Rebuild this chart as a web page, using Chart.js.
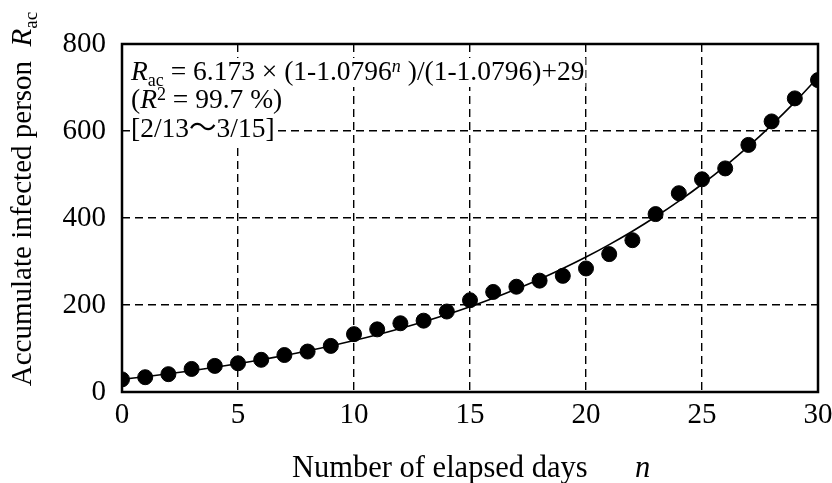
<!DOCTYPE html>
<html>
<head>
<meta charset="utf-8">
<script src="https://cdn.jsdelivr.net/npm/chart.js@4.4.0/dist/chart.umd.min.js"></script>
<style>
  html, body { margin: 0; padding: 0; background: #fff; }
  #wrap { width: 832px; height: 483px; }
</style>
</head>
<body>
<div id="wrap"><canvas id="fitChart"></canvas></div>
<script>
var days = [0, 1, 2, 3, 4, 5, 6, 7, 8, 9, 10, 11, 12, 13, 14, 15, 16, 17, 18, 19, 20, 21, 22, 23, 24, 25, 26, 27, 28, 29, 30];
var infected = [29, 34, 41, 53, 60, 66, 74, 85, 93, 106, 133, 144, 158, 164, 185, 211, 230, 242, 256, 267, 284, 317, 349, 409, 457, 489, 514, 568, 622, 675, 717];
// fitted curve values read at each day
var fitted = [29, 35.2, 41.8, 49.0, 56.8, 65.2, 74.2, 84.0, 94.6, 105.9, 118.2, 131.5, 145.9, 161.3, 178.0, 196.1, 215.5, 236.6, 259.3, 283.8, 310.2, 338.8, 369.6, 402.9, 438.8, 477.6, 519.5, 564.7, 613.6, 666.3, 723.2];
var xTicks = [0, 5, 10, 15, 20, 25, 30];
var yTicks = [0, 200, 400, 600, 800];

var FONT = '"Liberation Serif", "Times New Roman", "Noto Sans CJK JP", serif';

function pts(ys) {
  return days.map(function (d, i) { return { x: d, y: ys[i] }; });
}

function segFont(seg, size) {
  var s = (seg.sub || seg.sup) ? Math.round(size * 0.66) : size;
  return (seg.it ? "italic " : "") + s + "px " + FONT;
}
function richWidth(ctx, segs, size) {
  var w = 0;
  segs.forEach(function (seg) { ctx.font = segFont(seg, size); w += ctx.measureText(seg.t).width; });
  return w;
}
function drawRich(ctx, segs, x, y, size) {
  segs.forEach(function (seg) {
    ctx.font = segFont(seg, size);
    var dy = seg.sub ? size * 0.2 : (seg.sup ? -size * 0.3 : 0);
    ctx.fillText(seg.t, x, y + dy);
    x += ctx.measureText(seg.t).width;
  });
}

var noteLines = [
  [{ t: "R", it: true }, { t: "ac", sub: true }, { t: " = 6.173 × (1-1.0796" }, { t: "n", it: true, sup: true }, { t: " )/(1-1.0796)+29" }],
  [{ t: "(" }, { t: "R", it: true }, { t: "2", sup: true }, { t: " = 99.7 %)" }],
  [{ t: "[2/13〜3/15]" }]
];

var decor = {
  id: "decor",
  afterDatasetsDraw: function (chart) {
    var ctx = chart.ctx, a = chart.chartArea;
    ctx.save();
    ctx.textAlign = "left";
    ctx.textBaseline = "alphabetic";
    var size = 27.5, x0 = a.left + 9, base = [80, 108, 137];
    noteLines.forEach(function (segs, i) {
      var w = richWidth(ctx, segs, size);
      ctx.fillStyle = "#fff";
      ctx.fillRect(x0 - 1, base[i] - 22, w + 2, 29);
      ctx.fillStyle = "#000";
      drawRich(ctx, segs, x0, base[i], size);
    });
    ctx.restore();
  },
  afterDraw: function (chart) {
    var ctx = chart.ctx, a = chart.chartArea;
    ctx.save();
    ctx.strokeStyle = "#000";
    ctx.lineWidth = 2.5;
    ctx.strokeRect(a.left, a.top, a.right - a.left, a.bottom - a.top);

    ctx.fillStyle = "#000";
    ctx.textBaseline = "alphabetic";
    // x title
    drawRich(ctx, [{ t: "Number of elapsed days" }], 292, 477, 30.5);
    drawRich(ctx, [{ t: "n", it: true }], 635, 477, 30.5);
    // y title
    var ySegs = [{ t: "Accumulate infected person  " }, { t: "R", it: true }, { t: "ac", sub: true }];
    var w = richWidth(ctx, ySegs, 29);
    ctx.translate(31, 199);
    ctx.rotate(-Math.PI / 2);
    drawRich(ctx, ySegs, -w / 2, 0, 29);
    ctx.restore();
  }
};

new Chart(document.getElementById("fitChart").getContext("2d"), {
  type: "scatter",
  data: {
    datasets: [
      {
        label: "fit",
        data: pts(fitted),
        showLine: true,
        borderColor: "#000",
        borderWidth: 1.6,
        pointRadius: 0,
        tension: 0.4,
        order: 2
      },
      {
        label: "data",
        data: pts(infected),
        showLine: false,
        backgroundColor: "#000",
        borderColor: "#000",
        pointRadius: 7.5,
        order: 1
      }
    ]
  },
  options: {
    responsive: true,
    maintainAspectRatio: false,
    animation: false,
    layout: { padding: { top: 44, right: 14, left: 0, bottom: 0 } },
    plugins: { legend: { display: false }, tooltip: { enabled: false } },
    scales: {
      x: {
        type: "linear",
        min: 0,
        max: 30,
        afterBuildTicks: function (s) { s.ticks = xTicks.map(function (v) { return { value: v }; }); },
        afterFit: function (s) { s.height = 91; s.paddingLeft = 0; s.paddingRight = 0; },
        ticks: { color: "#000", padding: 6, font: { family: FONT, size: 29 }, maxRotation: 0 },
        grid: { color: "#000", lineWidth: 1.4, drawTicks: false },
        border: { display: false, dash: [8, 5] }
      },
      y: {
        type: "linear",
        min: 0,
        max: 800,
        afterBuildTicks: function (s) { s.ticks = yTicks.map(function (v) { return { value: v }; }); },
        afterFit: function (s) { s.width = 122; s.paddingTop = 0; s.paddingBottom = 0; },
        ticks: { color: "#000", padding: 16, font: { family: FONT, size: 29 } },
        grid: { color: "#000", lineWidth: 1.4, drawTicks: false },
        border: { display: false, dash: [8, 5] }
      }
    }
  },
  plugins: [decor]
});
</script>
</body>
</html>
